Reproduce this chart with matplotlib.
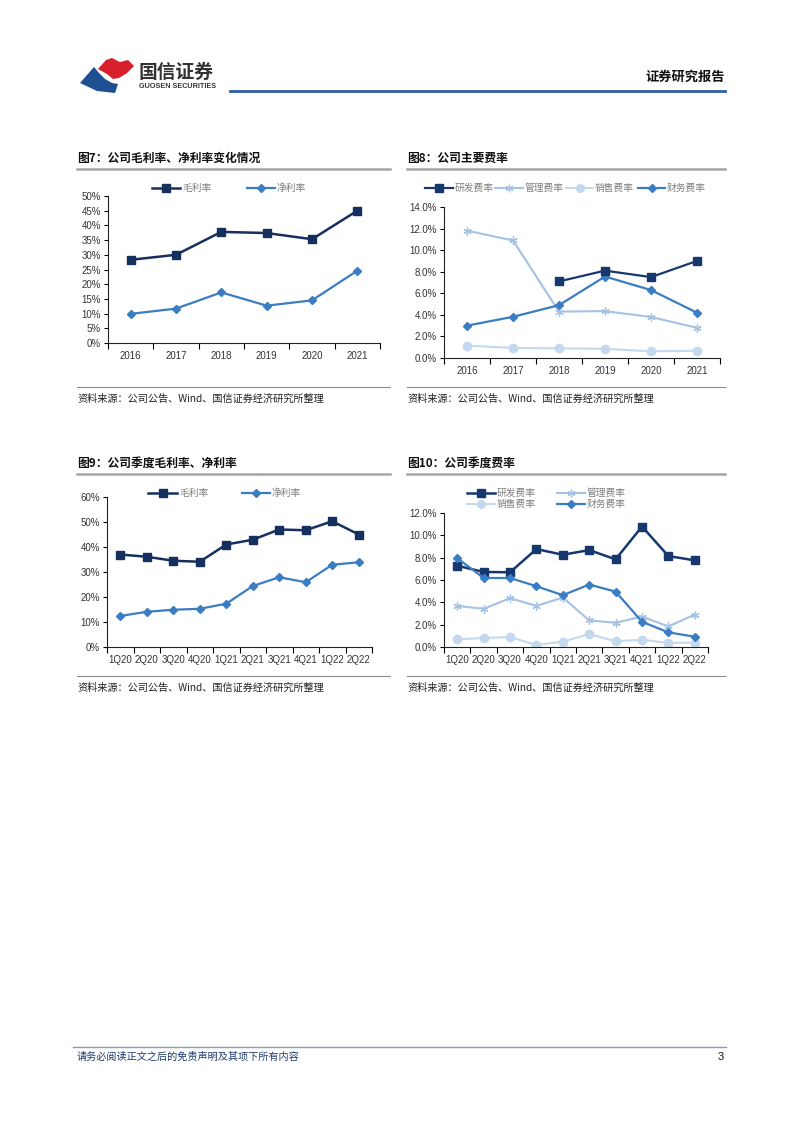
import matplotlib
matplotlib.use('Agg')
import matplotlib.pyplot as plt
from matplotlib.lines import Line2D
from matplotlib.patches import Polygon
from matplotlib.ticker import FuncFormatter
import numpy as np

plt.rcParams['font.family'] = ['Noto Sans CJK SC', 'DejaVu Sans']

W, H = 802, 1133

# ---------------- data ----------------
years = ['2016', '2017', '2018', '2019', '2020', '2021']
gross_annual = [28.3, 30.0, 37.8, 37.4, 35.3, 45.0]
net_annual = [9.9, 11.7, 17.2, 12.7, 14.5, 24.6]

rd_annual = [np.nan, np.nan, 7.1, 8.1, 7.5, 9.0]
admin_annual = [11.8, 10.9, 4.3, 4.35, 3.8, 2.8]
sales_annual = [1.15, 0.93, 0.9, 0.85, 0.62, 0.67]
fin_annual = [3.0, 3.82, 4.9, 7.55, 6.3, 4.2]

quarters = ['1Q20', '2Q20', '3Q20', '4Q20', '1Q21', '2Q21', '3Q21', '4Q21', '1Q22', '2Q22']
gross_q = [37.0, 36.1, 34.5, 34.1, 41.0, 42.9, 47.0, 46.7, 50.3, 45.0]
net_q = [12.4, 14.1, 14.9, 15.3, 17.3, 24.4, 27.9, 25.9, 32.9, 33.9]

rd_q = [7.28, 6.72, 6.69, 8.77, 8.26, 8.68, 7.85, 10.79, 8.14, 7.76]
admin_q = [3.68, 3.42, 4.37, 3.68, 4.43, 2.38, 2.17, 2.73, 1.84, 2.91]
sales_q = [0.68, 0.80, 0.89, 0.18, 0.48, 1.16, 0.51, 0.65, 0.36, 0.39]
fin_q = [7.96, 6.18, 6.18, 5.44, 4.64, 5.59, 4.96, 2.26, 1.31, 0.92]

source_text = '资料来源：公司公告、Wind、国信证券经济研究所整理'

NAVY = '#15305f'
NAVY2 = '#17386f'
MID = '#3a7dc2'
LIGHT = '#a4c2e3'
PALE = '#c4d9ef'
GRAYTXT = '#7f7f7f'
NUMFONT = ['Liberation Sans', 'DejaVu Sans']

fig = plt.figure(figsize=(W / 100, H / 100), dpi=100)


def fx(x):
    return x / W


def fy(y):
    return 1 - y / H


def hline(x0, x1, y, color, lw):
    fig.add_artist(Line2D([fx(x0), fx(x1)], [fy(y), fy(y)], color=color, lw=lw,
                          transform=fig.transFigure))


def text(x, y, s, **kw):
    fig.text(fx(x), fy(y), s, **kw)


def make_ax(l, t, r, b, cats, ymax, ystep, fmt, xls=7):
    ax = fig.add_axes([fx(l), fy(b), (r - l) / W, (b - t) / H])
    n = len(cats)
    ax.set_xlim(-0.5, n - 0.5)
    ax.set_ylim(0, ymax)
    ax.set_yticks(np.arange(0, ymax + 1e-9, ystep))
    ax.yaxis.set_major_formatter(FuncFormatter(fmt))
    ax.set_xticks(np.arange(-0.5, n, 1.0))
    ax.set_xticklabels([])
    ax.set_xticks(np.arange(n), minor=True)
    ax.set_xticklabels(cats, minor=True)
    ax.tick_params(axis='x', which='major', length=4, direction='out', width=0.8)
    ax.tick_params(axis='x', which='minor', length=0, pad=6, labelsize=xls,
                   labelcolor='#333333')
    ax.tick_params(axis='y', length=3, width=0.8, labelsize=7, pad=2,
                   labelcolor='#333333')
    for lab in ax.get_xticklabels(minor=True) + ax.get_yticklabels():
        lab.set_family(NUMFONT)
    for s in ('top', 'right'):
        ax.spines[s].set_visible(False)
    for s in ('left', 'bottom'):
        ax.spines[s].set_linewidth(0.8)
        ax.spines[s].set_color('#222222')
    ax.patch.set_alpha(0)
    return ax


def leg(x0, x1, y, label, color, marker, ms, lw, mew=1.0):
    xm = (x0 + x1) / 2
    fig.add_artist(Line2D([fx(x0), fx(xm), fx(x1)], [fy(y)] * 3, color=color, lw=lw,
                          marker=marker, markersize=ms, markevery=[1],
                          markeredgewidth=mew, transform=fig.transFigure))
    text(x1 + 2, y, label, fontsize=7, color=GRAYTXT, va='center', ha='left')


pct0 = lambda v, p: f'{v:.0f}%'
pct1 = lambda v, p: f'{v:.1f}%'

SQ = dict(marker='s', markersize=6)
DI = dict(marker='D', markersize=4)
AS = dict(marker=(6, 2, 0), markersize=6, markeredgewidth=0.9)
CI = dict(marker='o', markersize=6)

# ---------------- header ----------------
red = [(98, 69), (106, 60), (112, 58), (120, 62), (128, 60), (134, 66), (127, 73),
       (119, 78), (113, 79), (107, 74)]
blue = [(80, 83), (94, 67), (99, 73), (105, 79), (112, 83), (118, 84), (115, 93),
        (97, 91)]
fig.add_artist(Polygon([(fx(a), fy(b)) for a, b in red], closed=True,
                       facecolor='#d7202b', edgecolor='none', transform=fig.transFigure))
fig.add_artist(Polygon([(fx(a), fy(b)) for a, b in blue], closed=True,
                       facecolor='#1d4f91', edgecolor='none', transform=fig.transFigure))
text(139, 72, '国信证券', fontsize=13.5, color='#333333', va='center', ha='left',
     fontweight='bold')
text(139, 86.5, 'GUOSEN SECURITIES', fontsize=5.2, color='#333333', va='center',
     ha='left', fontweight='bold', family=NUMFONT)
text(725, 77, '证券研究报告', fontsize=9.5, color='#111111', va='center', ha='right',
     fontweight='bold')
hline(230, 725, 91, '#2e5ea6', 2.0)

# ---------------- chart titles / separators ----------------
for x0, x1, yt, yl, s in [(77, 390, 158, 169, '图7：公司毛利率、净利率变化情况'),
                          (407, 725, 158, 169, '图8：公司主要费率'),
                          (77, 390, 463, 474, '图9：公司季度毛利率、净利率'),
                          (407, 725, 463, 474, '图10：公司季度费率')]:
    text(x0, yt, s, fontsize=8.5, fontweight='bold', color='#111111', va='center',
         ha='left')
    hline(x0, x1, yl, '#a6a6a6', 1.8)

for x0, x1, yl, yt in [(77, 390, 387, 399), (407, 725, 387, 399),
                       (77, 390, 676, 688), (407, 725, 676, 688)]:
    hline(x0, x1, yl, '#8c8c8c', 0.8)
    text(x0, yt, source_text, fontsize=7.3, color='#222222', va='center', ha='left')

# ---------------- chart 7 ----------------
ax1 = make_ax(108, 196, 380, 343, years, 50, 5, pct0)
x = np.arange(len(years))
ax1.plot(x, gross_annual, color=NAVY, lw=1.8, **SQ)
ax1.plot(x, net_annual, color=MID, lw=1.6, **DI)
leg(152, 180, 188, '毛利率', NAVY, 's', 6, 1.8)
leg(247, 275, 188, '净利率', MID, 'D', 4, 1.6)

# ---------------- chart 8 ----------------
ax2 = make_ax(444, 207, 720, 358, years, 14, 2, pct1)
ax2.plot(x, admin_annual, color=LIGHT, lw=1.5, **AS)
ax2.plot(x, sales_annual, color=PALE, lw=1.5, **CI)
ax2.plot(x, fin_annual, color=MID, lw=1.6, **DI)
ax2.plot(x, rd_annual, color=NAVY2, lw=1.6, **SQ)
leg(425, 453, 188, '研发费率', NAVY2, 's', 6, 1.6)
leg(495, 523, 188, '管理费率', LIGHT, (6, 2, 0), 5.5, 1.5, 0.9)
leg(566, 593, 188, '销售费率', PALE, 'o', 5.5, 1.5)
leg(638, 665, 188, '财务费率', MID, 'D', 4, 1.6)

# ---------------- chart 9 ----------------
ax3 = make_ax(107, 497, 372, 647, quarters, 60, 10, pct0, xls=7)
xq = np.arange(len(quarters))
ax3.plot(xq, gross_q, color=NAVY, lw=1.8, **SQ)
ax3.plot(xq, net_q, color=MID, lw=1.6, **DI)
leg(148, 177, 493, '毛利率', NAVY, 's', 6, 1.8)
leg(242, 270, 493, '净利率', MID, 'D', 4, 1.6)

# ---------------- chart 10 ----------------
ax4 = make_ax(444, 513, 708, 647, quarters, 12, 2, pct1, xls=7)
ax4.plot(xq, admin_q, color=LIGHT, lw=1.5, **AS)
ax4.plot(xq, sales_q, color=PALE, lw=1.5, **CI)
ax4.plot(xq, rd_q, color=NAVY2, lw=1.8, **SQ)
ax4.plot(xq, fin_q, color=MID, lw=1.6, **DI)
leg(467, 495, 493, '研发费率', NAVY2, 's', 6, 1.8)
leg(557, 585, 493, '管理费率', LIGHT, (6, 2, 0), 5.5, 1.5, 0.9)
leg(467, 495, 504, '销售费率', PALE, 'o', 5.5, 1.5)
leg(557, 585, 504, '财务费率', MID, 'D', 4, 1.6)

# ---------------- footer ----------------
hline(73, 726, 1047, '#8a9ab8', 1.0)
text(77, 1057, '请务必阅读正文之后的免责声明及其项下所有内容', fontsize=7.3,
     color='#1f3a6e', va='center', ha='left', style='italic')
text(724, 1057, '3', fontsize=8, color='#111111', va='center', ha='right',
     family=NUMFONT)

fig.savefig('out.png', dpi=100)
